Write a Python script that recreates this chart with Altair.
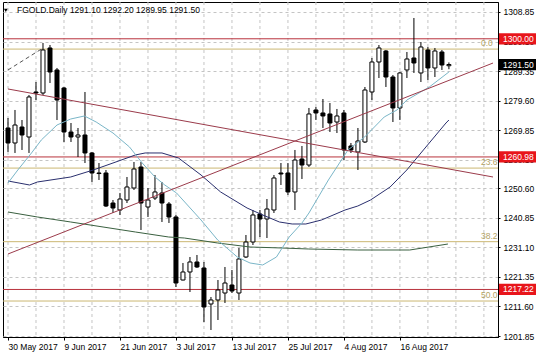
import altair as alt
import pandas as pd

# ---------------- data ----------------
opens = [1270.54, 1265.59, 1270.87, 1267.57, 1282.43, 1282.10, 1296.96, 1289.70, 1283.75, 1269.22,
         1267.57, 1268.23, 1262.29, 1255.68, 1255.68, 1245.77, 1243.46, 1246.76, 1250.73, 1257.66,
         1244.45, 1247.42, 1249.08, 1245.44, 1241.15, 1220.34, 1222.99, 1226.29, 1224.31, 1212.42,
         1213.74, 1216.05, 1218.69, 1216.05, 1227.94, 1232.89, 1242.14, 1240.49, 1243.46, 1255.68,
         1255.68, 1249.41, 1260.30, 1258.32, 1276.49, 1275.50, 1275.17, 1272.52, 1275.50, 1264.60,
         1262.62, 1265.92, 1282.43, 1292.34, 1295.97, 1287.38, 1277.15, 1289.70, 1293.66, 1288.71,
         1296.30, 1290.36, 1295.64, 1291.10]
highs = [1273.84, 1276.49, 1273.18, 1281.44, 1285.73, 1298.61, 1297.95, 1290.36, 1284.08, 1272.19,
         1270.54, 1282.43, 1262.62, 1258.98, 1256.67, 1246.76, 1249.08, 1254.36, 1259.31, 1259.31,
         1250.73, 1255.02, 1252.71, 1246.10, 1241.81, 1225.96, 1227.94, 1228.60, 1226.29, 1214.73,
         1220.34, 1224.64, 1223.65, 1230.91, 1235.20, 1243.46, 1243.46, 1247.09, 1255.02, 1258.98,
         1258.98, 1263.28, 1264.60, 1277.15, 1277.48, 1280.12, 1278.80, 1276.82, 1276.49, 1265.59,
         1270.54, 1284.08, 1293.66, 1297.95, 1296.30, 1288.05, 1289.04, 1295.64, 1306.87, 1298.94,
         1297.29, 1296.96, 1296.30, 1292.20]
lows = [1262.62, 1262.29, 1263.28, 1262.29, 1279.79, 1281.44, 1285.40, 1273.18, 1265.92, 1265.92,
        1260.96, 1258.98, 1252.71, 1253.37, 1244.45, 1242.47, 1241.81, 1245.77, 1250.07, 1236.86,
        1241.15, 1246.76, 1239.50, 1239.17, 1218.03, 1220.20, 1216.38, 1224.31, 1206.47, 1203.83,
        1207.13, 1212.75, 1216.05, 1213.74, 1227.61, 1231.90, 1234.54, 1234.21, 1242.47, 1251.72,
        1248.42, 1243.46, 1253.70, 1257.66, 1273.18, 1270.54, 1269.22, 1268.89, 1259.97, 1262.29,
        1256.67, 1265.59, 1279.79, 1287.05, 1284.08, 1272.52, 1273.18, 1287.05, 1288.71, 1285.73,
        1286.39, 1287.38, 1289.70, 1289.95]
closes = [1265.59, 1271.53, 1268.23, 1280.78, 1282.10, 1296.30, 1289.04, 1279.79, 1269.22, 1267.57,
          1268.23, 1262.29, 1255.68, 1255.50, 1244.78, 1244.12, 1247.09, 1251.06, 1257.00, 1245.77,
          1246.76, 1249.41, 1245.77, 1241.15, 1219.35, 1222.99, 1226.29, 1224.64, 1211.43, 1213.74,
          1217.04, 1219.35, 1216.71, 1227.28, 1232.89, 1241.81, 1240.49, 1243.79, 1254.03, 1255.35,
          1249.41, 1259.97, 1258.32, 1275.17, 1275.50, 1274.51, 1272.19, 1274.51, 1263.28, 1263.28,
          1266.25, 1283.09, 1292.34, 1296.96, 1287.38, 1277.15, 1288.71, 1293.33, 1292.01, 1297.29,
          1290.36, 1295.97, 1291.35, 1291.50]

x_label_pos = [0, 8, 16, 24, 32, 40, 48, 56]
x_labels = ["30 May 2017", "9 Jun 2017", "21 Jun 2017", "3 Jul 2017",
            "13 Jul 2017", "25 Jul 2017", "4 Aug 2017", "16 Aug 2017"]
y_ticks = [1308.85, 1299.10, 1289.35, 1279.60, 1269.85, 1260.10, 1250.60,
           1240.85, 1231.10, 1221.35, 1211.60, 1201.85]

fast_i = [0, 1.4, 3.36, 4.76, 7.0, 8.96, 10.92, 12.6, 15.0, 17.36, 19.18, 21.0, 22.4, 24.08,
          27.58, 29.96, 32.76, 34.58, 36.4, 38.36, 40.18, 42.0, 43.0, 45.78, 48.58, 50.96,
          53.76, 55.58, 57.0, 60.2, 63.0]
fast_v = [1252.38, 1256.67, 1262.29, 1266.58, 1271.53, 1273.51, 1274.51, 1272.52, 1268.89,
          1264.27, 1258.98, 1254.36, 1251.72, 1249.08, 1240.16, 1233.55, 1227.94, 1225.96,
          1225.30, 1227.94, 1234.54, 1239.17, 1242.47, 1253.37, 1263.28, 1267.57, 1274.18,
          1276.49, 1279.79, 1284.08, 1289.04]
mid_i = [0, 3.08, 4.2, 8.96, 12.18, 15.0, 18.2, 19.6, 22.0, 24.36, 27.58, 30.38, 34.16, 36.4,
         38.78, 40.6, 42.56, 44.8, 48.16, 49.98, 51.8, 54.6, 56.98, 59.36, 62.58, 63.0]
mid_v = [1253.04, 1251.72, 1252.71, 1254.36, 1256.67, 1258.98, 1261.63, 1262.29, 1262.29,
         1260.63, 1255.02, 1249.41, 1244.12, 1241.81, 1239.50, 1238.84, 1238.84, 1240.16,
         1243.46, 1244.78, 1246.76, 1251.06, 1256.67, 1263.28, 1272.19, 1273.18]
slow_i = [0, 4.2, 8.96, 13.58, 18.2, 22.96, 25.2, 29.96, 34.58, 39.2, 42.98, 49.98, 57.4, 62.86]
slow_v = [1242.80, 1241.15, 1239.50, 1237.85, 1236.20, 1234.54, 1234.21, 1232.56, 1231.24,
          1230.91, 1230.58, 1230.25, 1230.25, 1232.23]

trend_down_i = [0, 69.3]
trend_down_v = [1283.42, 1254.36]
trend_up_i = [0, 69.3]
trend_up_v = [1228.93, 1292.00]
fib_link_i = [0, 4.76]
fib_link_v = [1289.70, 1296.60]

red_levels = [1300.00, 1260.98, 1217.22]
fib_levels = [1296.60, 1257.30, 1233.00, 1213.40]
fib_names = ["0.0", "23.6", "38.2", "50.0"]
last_price = 1291.50
title_text = "FGOLD.Daily  1291.10 1292.20 1289.95 1291.50"

# ---------------- tables ----------------
candles = pd.DataFrame({"i": list(range(len(opens))), "o": opens, "h": highs,
                        "l": lows, "c": closes})
FONT = "Liberation Sans"
FS = 8.5

xscale = alt.Scale(domain=[0, 69.3], nice=False, zero=False)
yscale = alt.Scale(domain=[1201.52, 1312.15], nice=False, zero=False)

label_expr = "[" + ",".join("'%s'" % s for s in x_labels) + "][round(datum.value/8)]"

X_AXIS = alt.Axis(values=x_label_pos, labelExpr=label_expr, labelAlign="left",
                  grid=False, tickSize=3, labelFontSize=FS, labelFont=FONT,
                  labelColor="black", labelPadding=2, domainColor="black",
                  tickColor="black", title=None, labelFlush=False, labelOverlap=False)
Y_AXIS = alt.Axis(orient="right", values=y_ticks, format=".2f", grid=True,
                  gridDash=[3, 3], gridColor="#c4c4c4", tickSize=2,
                  labelFontSize=FS, labelFont=FONT, labelColor="black",
                  domainColor="black", tickColor="black", labelPadding=3,
                  title=None, labelOverlap=False, labelFlush=False)


def X(field):
    return alt.X(field, scale=xscale, axis=X_AXIS)


def Y(field):
    return alt.Y(field, scale=yscale, axis=Y_AXIS)


# vertical dashed grid
vgrid = alt.Chart(pd.DataFrame({"g": list(range(0, 69, 4))})).mark_rule(
    color="#c4c4c4", strokeDash=[3, 3], strokeWidth=1
).encode(x=X("g:Q"))

# candles: wicks and bodies
wicks = alt.Chart(candles).mark_rule(color="black", strokeWidth=1, clip=True).encode(
    x=X("i:Q"), y=Y("l:Q"), y2="h:Q")

bodies = alt.Chart(candles).mark_bar(size=4, stroke="black", strokeWidth=1, clip=True).encode(
    x=X("i:Q"), y=Y("o:Q"), y2="c:Q",
    fill=alt.condition("datum.c >= datum.o", alt.value("white"), alt.value("black")),
)

# horizontal level lines
red_df = pd.DataFrame({"v": red_levels})
red_lines = alt.Chart(red_df).mark_rule(color="#b8323c", strokeWidth=1).encode(y=Y("v:Q"))

fib_df = pd.DataFrame({"v": fib_levels, "n": fib_names})
fib_lines = alt.Chart(fib_df).mark_rule(color="#cbb772", strokeWidth=1).encode(y=Y("v:Q"))
fib_text = alt.Chart(fib_df).mark_text(
    align="left", baseline="bottom", dy=-1, fontSize=FS, font=FONT, color="#b2a263"
).encode(x=alt.value(478), y=Y("v:Q"), text="n:N")


def line_layer(ii, vv, color, dash=None):
    df = pd.DataFrame({"i": ii, "v": vv})
    kw = dict(color=color, strokeWidth=1, clip=True)
    if dash:
        kw["strokeDash"] = dash
    return alt.Chart(df).mark_line(**kw).encode(x=X("i:Q"), y=Y("v:Q"))


ma_slow = line_layer(slow_i, slow_v, "#3a6040")
ma_mid = line_layer(mid_i, mid_v, "#2a2f6e")
ma_fast = line_layer(fast_i, fast_v, "#7ab6c8")
tl_down = line_layer(trend_down_i, trend_down_v, "#9b3b4b")
tl_up = line_layer(trend_up_i, trend_up_v, "#9b3b4b")
fib_link = line_layer(fib_link_i, fib_link_v, "#555555", dash=[4, 3])

# price boxes on the right axis
box_df = pd.DataFrame({"v": red_levels + [last_price],
                       "kind": ["red"] * len(red_levels) + ["last"]})
boxes = alt.Chart(box_df).transform_calculate(
    top="datum.v + 1.85", bot="datum.v - 1.85"
).mark_rect().encode(
    x=alt.value(496), x2=alt.value(533),
    y=Y("top:Q"), y2="bot:Q",
    color=alt.condition("datum.kind == 'red'", alt.value("#e8151b"), alt.value("black")),
)
box_text = alt.Chart(box_df).transform_calculate(
    lab="format(datum.v, '.2f')"
).mark_text(align="left", baseline="middle", fontSize=FS, font=FONT, color="white").encode(
    x=alt.value(500), y=Y("v:Q"), text="lab:N")

# title
one = pd.DataFrame({"t": [title_text]})
title_tri = alt.Chart(one).mark_point(shape="triangle-down", filled=True, color="black",
                                      size=14, opacity=1).encode(
    x=alt.value(2.8), y=alt.value(8.3))
title = alt.Chart(one).mark_text(align="left", baseline="middle", fontSize=FS, font=FONT,
                                 color="black").encode(
    x=alt.value(14), y=alt.value(8), text="t:N")

chart = alt.layer(
    vgrid, fib_lines, red_lines, wicks, bodies,
    ma_slow, ma_mid, ma_fast, tl_down, tl_up, fib_link,
    fib_text, boxes, box_text, title_tri, title,
).properties(
    width=495, height=335,
    autosize=alt.AutoSizeParams(type="none"),
    padding={"left": 3, "top": 2, "right": 38, "bottom": 20},
    background="white",
).configure_view(stroke="black", strokeWidth=1)

chart.save("out.html", embed_options={"renderer": "svg", "actions": False})
